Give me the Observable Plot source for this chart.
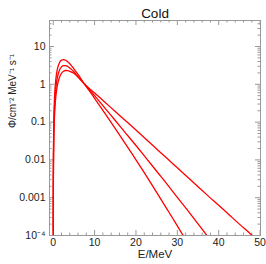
<!DOCTYPE html>
<html>
<head>
<meta charset="utf-8">
<script src="https://cdn.jsdelivr.net/npm/d3@7"></script>
<script src="https://cdn.jsdelivr.net/npm/@observablehq/plot@0.6"></script>
<style>
  html, body { margin: 0; padding: 0; background: white; }
</style>
</head>
<body>
<div id="chart"></div>
<script>
// Energy grid (MeV)
const energy = [0.005, 0.02, 0.05, 0.1, 0.2, 0.35, 0.5, 0.75, 1, 1.5, 2, 2.5, 3, 3.5, 4, 5, 6, 7.6, 10, 12.5, 15, 17.5, 20, 22.5, 25, 27.5, 30, 32.5, 35, 37.5, 40, 42.5, 45, 47.5, 50];
// Flux series (cm^-2 MeV^-1 s^-1)
const fluxA = [1.4e-4, 2.3e-3, 0.0138, 0.0537, 0.195, 0.528, 0.95, 1.74, 2.51, 3.72, 4.36, 4.49, 4.32, 3.95, 3.51, 2.57, 1.82, 1.0, 0.427, 0.17, 0.0676, 0.0263, 0.01, 0.0038, 0.00138, 5.0e-4, 1.8e-4, 6.3e-5];
const fluxB = [7.9e-5, 1.26e-3, 7.6e-3, 0.0295, 0.11, 0.302, 0.55, 1.03, 1.51, 2.36, 2.89, 3.12, 3.11, 2.95, 2.69, 2.14, 1.58, 1.0, 0.501, 0.234, 0.11, 0.0513, 0.024, 0.011, 0.005, 0.00229, 0.00102, 4.6e-4, 2.04e-4, 8.9e-5, 4.0e-5];
const fluxC = [4.5e-5, 7.1e-4, 4.4e-3, 0.0166, 0.063, 0.175, 0.324, 0.617, 0.935, 1.52, 1.96, 2.22, 2.32, 2.30, 2.21, 1.95, 1.55, 1.0, 0.589, 0.335, 0.191, 0.108, 0.0617, 0.0347, 0.0195, 0.011, 0.00617, 0.00347, 0.00195, 0.0011, 6.3e-4, 3.55e-4, 2.0e-4, 1.15e-4, 6.5e-5];
const seriesNames = ["A", "B", "C"];

// Axis ticks and labels
const xTicks = [0, 10, 20, 30, 40, 50];
const xMinorTicks = [2, 4, 6, 8, 12, 14, 16, 18, 22, 24, 26, 28, 32, 34, 36, 38, 42, 44, 46, 48];
const yTicks = [1e-4, 1e-3, 0.01, 0.1, 1, 10];
const yTickLabels = ["10\u207B\u2074", "0.001", "0.01", "0.1", "1", "10"];
const yMinorTicks = [2e-4,3e-4,4e-4,5e-4,6e-4,7e-4,8e-4,9e-4,2e-3,3e-3,4e-3,5e-3,6e-3,7e-3,8e-3,9e-3,0.02,0.03,0.04,0.05,0.06,0.07,0.08,0.09,0.2,0.3,0.4,0.5,0.6,0.7,0.8,0.9,2,3,4,5,6,7,8,9,20,30,40];

const title = "Cold";
const xLabel = "E/MeV";
const yLabel = "\u03A6/cm\u207B\u00B2 MeV\u207B\u00B9 s\u207B\u00B9";

const rows = [];
[fluxA, fluxB, fluxC].forEach((arr, k) => {
  arr.forEach((v, i) => rows.push({E: energy[i], phi: v, s: seriesNames[k]}));
});

const W = 266, H = 264;
const mL = 49, mR = 6, mT = 20, mB = 29;
const fw = W - mL - mR, fh = H - mT - mB;
const labelMap = new Map(yTicks.map((t, i) => [t, yTickLabels[i]]));
const tickColor = "#999";

const plot = Plot.plot({
  width: W,
  height: H,
  marginLeft: mL,
  marginRight: mR,
  marginTop: mT,
  marginBottom: mB,
  style: {fontFamily: "'Liberation Sans', Arial, sans-serif", fontSize: "10px", background: "white", color: "#222"},
  x: {domain: [-0.9, 50.1], axis: null},
  y: {type: "log", domain: [1e-4, 48.7], axis: null},
  marks: [
    Plot.frame({stroke: tickColor}),
    // major / minor ticks, inside, all four sides
    Plot.tickX(xTicks, {x: d => d, insetTop: fh - 5, stroke: tickColor}),
    Plot.tickX(xTicks, {x: d => d, insetBottom: fh - 5, stroke: tickColor}),
    Plot.tickX(xMinorTicks, {x: d => d, insetTop: fh - 2.5, stroke: tickColor}),
    Plot.tickX(xMinorTicks, {x: d => d, insetBottom: fh - 2.5, stroke: tickColor}),
    Plot.tickY(yTicks, {y: d => d, insetRight: fw - 5, stroke: tickColor}),
    Plot.tickY(yTicks, {y: d => d, insetLeft: fw - 5, stroke: tickColor}),
    Plot.tickY(yMinorTicks, {y: d => d, insetRight: fw - 2.5, stroke: tickColor}),
    Plot.tickY(yMinorTicks, {y: d => d, insetLeft: fw - 2.5, stroke: tickColor}),
    // tick labels
    Plot.axisX(xTicks, {anchor: "bottom", tickSize: 0, tickPadding: 3, label: null, fontSize: 10.5, fill: "#222"}),
    Plot.axisY(yTicks, {anchor: "left", tickSize: 0, tickPadding: 4, label: null, fontSize: 10.5, fill: "#222", tickFormat: d => labelMap.get(d)}),
    // curves
    Plot.line(rows, {x: "E", y: "phi", z: "s", stroke: "#ff0000", strokeWidth: 1.3, curve: "monotone-x", clip: true}),
    // texts
    Plot.text([title], {text: d => d, frameAnchor: "top", dy: -12, fontSize: 13.5, fill: "#111"}),
    Plot.text([xLabel], {text: d => d, frameAnchor: "bottom", dy: 22, fontSize: 11.5, fill: "#222"}),
    Plot.text([yLabel], {text: d => d, frameAnchor: "left", dx: -37, rotate: -90, fontSize: 10, fill: "#222"})
  ]
});
document.getElementById("chart").appendChild(plot);
</script>
</body>
</html>
